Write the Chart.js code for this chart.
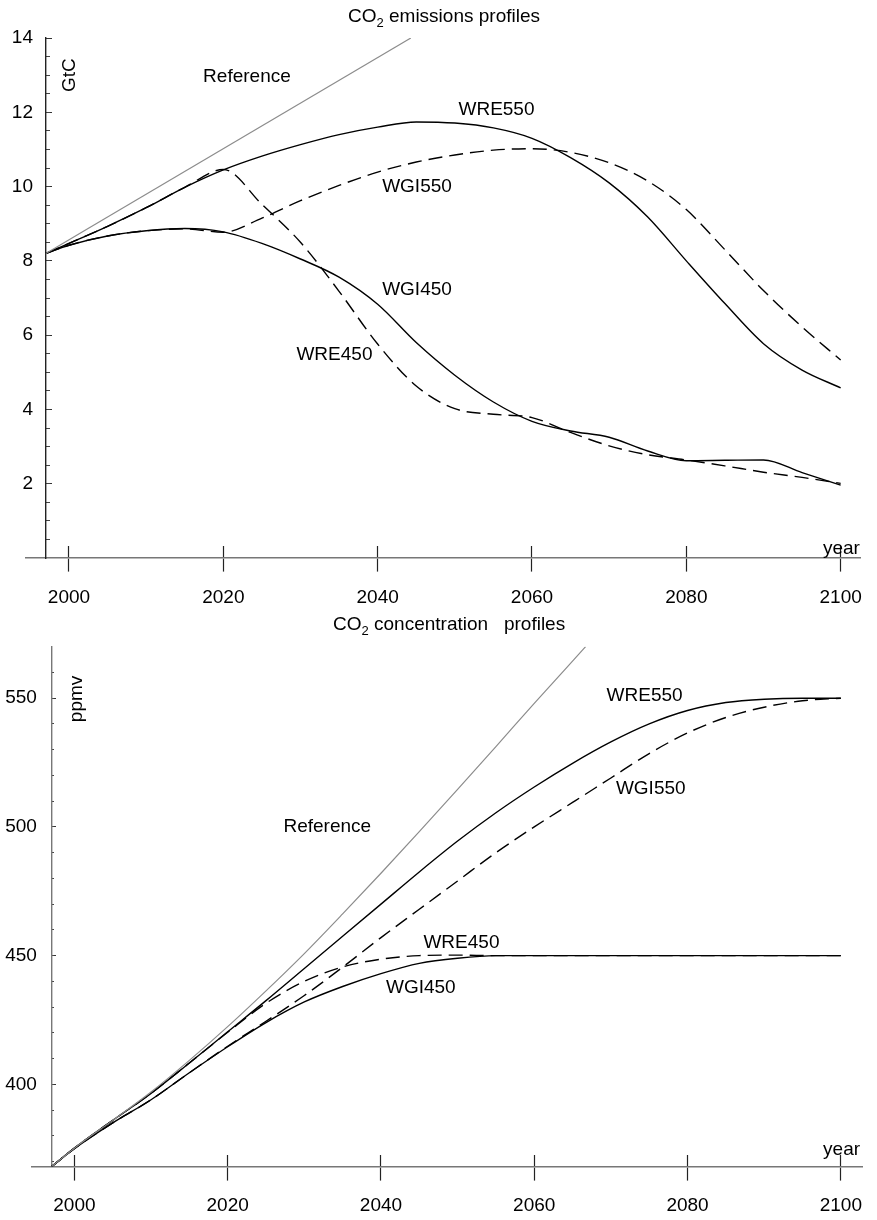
<!DOCTYPE html>
<html>
<head>
<meta charset="utf-8">
<script src="https://cdn.jsdelivr.net/npm/chart.js@4/dist/chart.umd.min.js"></script>
<style>
  body { margin: 0; background: #fff; }
  canvas { position: absolute; left: 0; display: block; }
  #emissions { top: 0; }
  #concentration { top: 610px; }
</style>
</head>
<body>
<canvas id="emissions" width="877" height="610"></canvas>
<canvas id="concentration" width="877" height="610"></canvas>
<script>
// Data

const years = [1997, 2000, 2005, 2010, 2015, 2020, 2025, 2030, 2035, 2040, 2045,
               2050, 2055, 2060, 2065, 2070, 2075, 2080, 2085, 2090, 2095, 2100];
const yearTicks = [2000, 2020, 2040, 2060, 2080, 2100];

// CO2 emissions, GtC
const emRefYears = [1997, 2044.3];
const emReference = [8.2, 14.0];
const emWRE550 = [8.2, 8.47, 8.93, 9.43, 9.98, 10.45, 10.82, 11.13, 11.4, 11.6, 11.74,
                  11.71, 11.58, 11.3, 10.78, 10.1, 9.18, 8.0, 6.85, 5.77, 5.06, 4.58];
const emWGI550 = [8.2, 8.42, 8.67, 8.81, 8.86, 8.77, 9.15, 9.62, 10.03, 10.39, 10.66,
                  10.85, 10.98, 11.02, 10.92, 10.64, 10.15, 9.38, 8.3, 7.2, 6.22, 5.33];
const emWGI450 = [8.2, 8.42, 8.67, 8.81, 8.87, 8.78, 8.47, 8.05, 7.56, 6.83, 5.8,
                  4.92, 4.2, 3.68, 3.42, 3.25, 2.88, 2.62, 2.63, 2.64, 2.3, 1.96];
const emWRE450 = [8.2, 8.47, 8.93, 9.43, 9.98, 10.46, 9.52, 8.5, 7.18, 5.76, 4.63,
                  4.02, 3.87, 3.78, 3.38, 3.02, 2.78, 2.64, 2.48, 2.31, 2.17, 2.01];
const emTicks = [2, 4, 6, 8, 10, 12, 14];
const emMinorTicks = [0.5, 1, 1.5, 2, 2.5, 3, 3.5, 4, 4.5, 5, 5.5, 6, 6.5, 7, 7.5,
                      8, 8.5, 9, 9.5, 10, 10.5, 11, 11.5, 12, 12.5, 13, 13.5];

// CO2 concentration, ppmv
const coRefYears = [1997, 2000, 2005, 2010, 2015, 2020, 2025, 2030, 2035, 2040, 2045,
                    2050, 2055, 2060, 2066.7];
const coReference = [368, 375.2, 386, 397, 409.3, 422.4, 436.3, 450.8, 466.2, 482, 498.2,
                     514.6, 531.2, 548, 570];
const coWRE550 = [368, 375.2, 386, 396.5, 408.3, 420.4, 432.5, 445, 457.5, 470, 482.5,
                  494.5, 505.5, 515.5, 524.7, 533, 540, 545.2, 548.3, 549.6, 550, 550];
const coWGI550 = [368, 375, 385, 394, 404.5, 414.8, 424.5, 434.5, 445.5, 457, 468,
                  479, 490, 500, 509.5, 519, 528.5, 536.5, 542.5, 546.5, 549, 550];
const coWGI450 = [368, 375, 385, 394, 404.5, 414.6, 424, 432, 438, 443, 447,
                  449, 450, 450, 450, 450, 450, 450, 450, 450, 450, 450];
const coWRE450 = [368, 375.2, 386, 396.5, 408.3, 420.2, 431.5, 440, 445.6, 448.6, 450,
                  450.2, 450, 450, 450, 450, 450, 450, 450, 450, 450, 450];
const coTicks = [400, 450, 500, 550];
const coMinorTicks = [370, 380, 390, 400, 410, 420, 430, 440, 450, 460, 470, 480, 490,
                      500, 510, 520, 530, 540, 550, 560];

const FONT = '"Liberation Sans", Arial, Helvetica, sans-serif';
const INK = '#000';

function pairs(xs, ys) {
    return xs.map((x, i) => ({ x: x, y: ys[i] }));
}

function solid(data) {
    return { data: data, borderColor: INK, borderWidth: 1.4, pointRadius: 0,
             cubicInterpolationMode: 'monotone', fill: false };
}

function dashed(data) {
    return Object.assign(solid(data), { borderDash: [14, 7] });
}

function reference(data) {
    return { data: data, borderColor: '#8c8c8c', borderWidth: 1.2, pointRadius: 0,
             cubicInterpolationMode: 'monotone', fill: false };
}

function fixedTicks(values) {
    return scale => { scale.ticks = values.map(v => ({ value: v })); };
}

// curve names, axis names and the title with a subscript 2
const labelPlugin = {
    id: 'curveLabels',
    afterDraw(chart, args, opts) {
        const { ctx } = chart;
        const xs = chart.scales.x, ys = chart.scales.y;
        ctx.save();
        ctx.fillStyle = INK;
        ctx.font = '19px ' + FONT;
        ctx.textAlign = 'center';
        ctx.textBaseline = 'middle';
        opts.items.forEach(it => {
            const px = xs.getPixelForValue(it.x);
            const py = ys.getPixelForValue(it.y);
            if (it.rotate) {
                ctx.save();
                ctx.translate(px, py);
                ctx.rotate(-Math.PI / 2);
                ctx.fillText(it.text, 0, 0);
                ctx.restore();
            } else {
                ctx.fillText(it.text, px, py);
            }
        });

        // title: "CO" + subscript "2" + rest
        const t = opts.title;
        ctx.textAlign = 'left';
        ctx.textBaseline = 'alphabetic';
        let x = t.left;
        ctx.font = '19px ' + FONT;
        ctx.fillText('CO', x, t.baseline);
        x += ctx.measureText('CO').width;
        ctx.font = '13px ' + FONT;
        ctx.fillText('2', x, t.baseline + 5);
        x += ctx.measureText('2').width;
        ctx.font = '19px ' + FONT;
        ctx.fillText(t.rest, x, t.baseline);
        ctx.restore();
    }
};

function makeOptions(cfg) {
    const tickFont = { family: FONT, size: 19 };
    return {
        responsive: false,
        animation: false,
        events: [],
        layout: { padding: cfg.padding },
        plugins: {
            legend: { display: false },
            tooltip: { enabled: false },
            curveLabels: { items: cfg.labels, title: cfg.title }
        },
        scales: {
            x: {
                type: 'linear', min: cfg.xMin, max: cfg.xMax,
                position: { y: cfg.yMin },
                afterBuildTicks: fixedTicks(yearTicks),
                grid: { drawOnChartArea: false, tickLength: 13, tickColor: '#222', tickWidth: 1.2 },
                border: { color: '#777', width: 1.6 },
                ticks: { color: INK, font: tickFont, padding: cfg.xPad, maxRotation: 0,
                         autoSkip: false, callback: v => String(v) }
            },
            xUp: {
                type: 'linear', axis: 'x', min: cfg.xMin, max: cfg.xMax,
                position: { y: cfg.yMin },
                afterBuildTicks: fixedTicks(yearTicks),
                grid: { drawOnChartArea: false, tickLength: -12, tickColor: '#222', tickWidth: 1.2 },
                border: { display: false },
                ticks: { display: false }
            },
            y: {
                type: 'linear', min: cfg.yMin, max: cfg.yMax,
                position: { x: 1997 },
                afterBuildTicks: fixedTicks(cfg.majorTicks),
                grid: { drawOnChartArea: false, tickLength: -cfg.majorLen, tickColor: '#333', tickWidth: 1 },
                border: { color: cfg.yAxisColor, width: 1.4 },
                ticks: { display: false }
            },
            // tick labels of the y axis, set a little left of the axis line
            yLabels: {
                type: 'linear', axis: 'y', min: cfg.yMin, max: cfg.yMax,
                position: { x: cfg.labelX },
                afterBuildTicks: fixedTicks(cfg.majorTicks),
                grid: { drawOnChartArea: false, drawTicks: false },
                border: { display: false },
                ticks: { color: INK, font: tickFont, padding: 0, autoSkip: false,
                         callback: v => String(v) }
            },
            yMinor: {
                type: 'linear', axis: 'y', min: cfg.yMin, max: cfg.yMax,
                position: { x: 1997 },
                afterBuildTicks: fixedTicks(cfg.minorTicks),
                grid: { drawOnChartArea: false, tickLength: -cfg.minorLen, tickColor: '#444', tickWidth: 1 },
                border: { display: false },
                ticks: { display: false }
            }
        }
    };
}

new Chart(document.getElementById('emissions'), {
    type: 'line',
    data: {
        datasets: [
            reference(pairs(emRefYears, emReference)),
            solid(pairs(years, emWRE550)),
            dashed(pairs(years, emWGI550)),
            solid(pairs(years, emWGI450)),
            dashed(pairs(years, emWRE450))
        ]
    },
    options: makeOptions({
        padding: { top: 38, bottom: 52, left: 26, right: 9 },
        xMin: 1994.43, xMax: 2102.53,
        yMin: 0, yMax: 14,
        majorTicks: emTicks, minorTicks: emMinorTicks,
        majorLen: 7, minorLen: 4,
        xPad: 15, labelX: 1995.33,
        yAxisColor: '#222',
        title: { left: 348, baseline: 21.7, rest: ' emissions profiles' },
        labels: [
            { text: 'Reference', x: 2023.06, y: 12.95 },
            { text: 'WRE550', x: 2055.4, y: 12.06 },
            { text: 'WGI550', x: 2045.1, y: 9.99 },
            { text: 'WGI450', x: 2045.1, y: 7.22 },
            { text: 'WRE450', x: 2034.4, y: 5.47 },
            { text: 'GtC', x: 2000.15, y: 13.0, rotate: true },
            { text: 'year', x: 2100.1, y: 0.24 }
        ]
    }),
    plugins: [labelPlugin]
});

new Chart(document.getElementById('concentration'), {
    type: 'line',
    data: {
        datasets: [
            reference(pairs(coRefYears, coReference)),
            solid(pairs(years, coWRE550)),
            dashed(pairs(years, coWGI550)),
            solid(pairs(years, coWGI450)),
            dashed(pairs(years, coWRE450))
        ]
    },
    options: makeOptions({
        padding: { top: 36.7, bottom: 53.3, left: 31.7, right: 2 },
        xMin: 1994.43, xMax: 2102.8,
        yMin: 368, yMax: 570,
        majorTicks: coTicks, minorTicks: coMinorTicks,
        majorLen: 5, minorLen: 3,
        xPad: 15, labelX: 1995.11,
        yAxisColor: '#777',
        title: { left: 333, baseline: 20, rest: ' concentration   profiles' },
        labels: [
            { text: 'ppmv', x: 2000.25, y: 549.7, rotate: true },
            { text: 'Reference', x: 2033.0, y: 500.0 },
            { text: 'WRE550', x: 2074.4, y: 550.9 },
            { text: 'WGI550', x: 2075.2, y: 514.7 },
            { text: 'WRE450', x: 2050.5, y: 454.9 },
            { text: 'WGI450', x: 2045.2, y: 437.4 },
            { text: 'year', x: 2100.1, y: 374.5 }
        ]
    }),
    plugins: [labelPlugin]
});
</script>
</body>
</html>
